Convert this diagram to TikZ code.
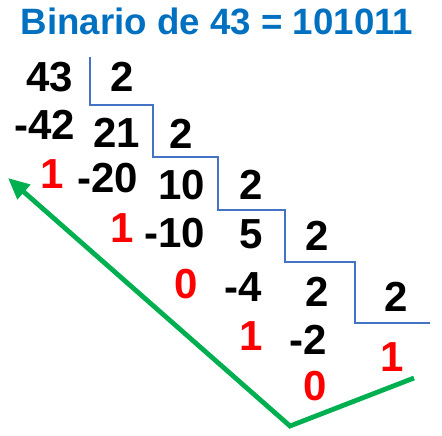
\documentclass[tikz,border=0pt]{standalone}
\usepackage{fontspec}
\setmainfont{Liberation Sans}
\usetikzlibrary{arrows.meta}
\definecolor{tblue}{HTML}{0070C0}
\definecolor{sblue}{HTML}{4472C4}
\definecolor{rred}{HTML}{FF0000}
\definecolor{ggreen}{HTML}{00B050}
\begin{document}
\begin{tikzpicture}[x=0.75pt,y=-0.75pt,
  num/.style={font=\fontsize{31.5}{36}\selectfont\bfseries, inner sep=0pt},
  blk/.style={num,text=black},
  rem/.style={num,text=rred},
  stair/.style={draw=sblue,line width=2pt},
  greenline/.style={draw=ggreen,line width=3.6pt,line join=miter,-{Triangle[length=16pt,width=14pt]}}
]
\useasboundingbox (0,0) rectangle (442,435);
\node[font=\fontsize{27.5}{32}\selectfont\bfseries, text=tblue, inner sep=0pt] (title) at (217,21) {Binario de 43 = 101011};

\draw[stair] (90,57) -- (90,105) -- (153,105) -- (153,157) -- (218,157) -- (218,210) -- (285,210) -- (285,262) -- (355,262) -- (355,323) -- (430,323);

\node[blk] (n43) at (50,77) {43};
\node[blk] (d1) at (122,77) {2};
\node[blk] (m42) at (45,125) {-42};
\node[blk] (q21) at (117,133) {21};
\node[blk] (d2) at (181,134) {2};
\node[rem] (r1) at (52,174) {1};
\node[blk] (m20) at (108,178) {-20};
\node[blk] (q10) at (182,185) {10};
\node[blk] (d3) at (251,185) {2};
\node[rem] (r2) at (122,228) {1};
\node[blk] (m10) at (175,233) {-10};
\node[blk] (q5) at (251,234) {5};
\node[blk] (d4) at (317,236) {2};
\node[rem] (r3) at (186,284) {0};
\node[blk] (m4) at (243,287) {-4};
\node[blk] (q2) at (317,292) {2};
\node[blk] (d5) at (396,297) {2};
\node[rem] (r4) at (251,336) {1};
\node[blk] (m2) at (308,340) {-2};
\node[rem] (r6) at (392,357) {1};
\node[rem] (r5) at (315,386) {0};

\coordinate (g1) at (8,178);
\coordinate (g2) at (290,426);
\coordinate (g3) at (414,378);
\draw[greenline] (g3) -- (g2) -- (g1);
\end{tikzpicture}
\end{document}
